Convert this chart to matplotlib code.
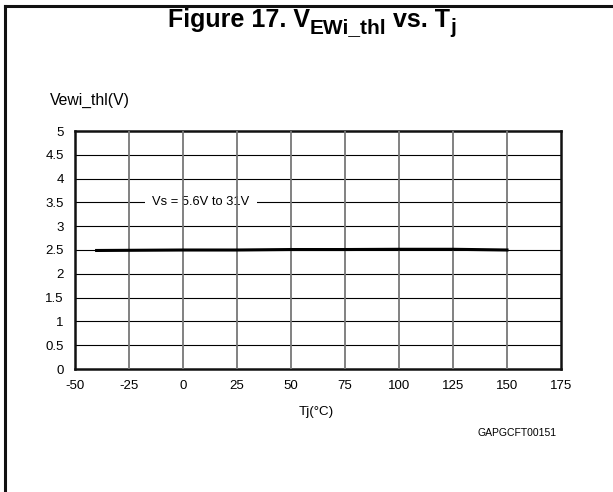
import matplotlib.pyplot as plt
from matplotlib.lines import Line2D

plt.rc('font', family=['Liberation Sans', 'DejaVu Sans'])
plt.rc('axes', unicode_minus=False)

# data
tj = [-40, 0, 25, 50, 75, 100, 125, 150]
vewi_thl = [2.49, 2.50, 2.50, 2.51, 2.51, 2.515, 2.515, 2.50]

x_ticks = [-50, -25, 0, 25, 50, 75, 100, 125, 150, 175]
y_ticks = [0, 0.5, 1, 1.5, 2, 2.5, 3, 3.5, 4, 4.5, 5]
y_tick_labels = ['0', '0.5', '1', '1.5', '2', '2.5', '3', '3.5', '4', '4.5', '5']

# title pieces: (text, size, baseline offset in px below main baseline)
title_parts = [('Figure 17. V', 18, 0), ('EWi_thl', 15, 6.3), (' vs. T', 18, 0), ('j', 15, 6.3)]

W, H = 613, 492
fig = plt.figure(figsize=(W / 100, H / 100), dpi=100)
fig.set_facecolor('white')

# outer frame (top and left only)
fig.add_artist(Line2D([5 / W, 1], [1 - 6 / H, 1 - 6 / H], color='#111111', linewidth=2.2))
fig.add_artist(Line2D([5 / W, 5 / W], [0, 1 - 6 / H], color='#111111', linewidth=2.2))

ax = fig.add_axes([75 / W, 1 - 369 / H, (561 - 75) / W, (369 - 131) / H])
ax.set_xlim(-50, 175)
ax.set_ylim(0, 5)
ax.set_xticks(x_ticks)
ax.set_yticks(y_ticks)
ax.set_yticklabels(y_tick_labels)
ax.tick_params(length=0, labelsize=9.5, pad=8)

# grid drawn by hand so the label box can cut the horizontal lines only
for y in y_ticks[1:-1]:
    ax.axhline(y, color='black', linewidth=0.8, zorder=1)
for x in x_ticks[1:-1]:
    ax.axvline(x, color='#777777', linewidth=1.3, zorder=3)

for sp in ax.spines.values():
    sp.set_linewidth(1.8)
    sp.set_color('#111111')

ax.plot(tj, vewi_thl, color='black', linewidth=2.2, zorder=4)

ax.text(8.3, 3.5, 'Vs = 5.6V to 31V', ha='center', va='center', fontsize=9.3,
        bbox=dict(facecolor='white', edgecolor='none', pad=5), zorder=2)

# title built piece by piece so the subscripts keep their size, then centred
renderer = fig.canvas.get_renderer()
x_px = 0
base_px = 27
pieces = []
for txt, size, drop in title_parts:
    t = fig.text(x_px / W, 1 - (base_px + drop) / H, txt, ha='left', va='baseline',
                 fontsize=size, fontweight='bold')
    pieces.append(t)
    x_px = t.get_window_extent(renderer).x1
shift = 312 - x_px / 2
for t in pieces:
    px, py = t.get_position()
    t.set_position((px + shift / W, py))

fig.text(50 / W, 1 - 100 / H, 'Vewi_thl(V)', ha='left', va='center', fontsize=11.3)
fig.text(316 / W, 1 - 412 / H, 'Tj(°C)', ha='center', va='center', fontsize=9.6)
fig.text(557 / W, 1 - 433 / H, 'GAPGCFT00151', ha='right', va='center', fontsize=7.5)

fig.savefig('out.png', dpi=100)
